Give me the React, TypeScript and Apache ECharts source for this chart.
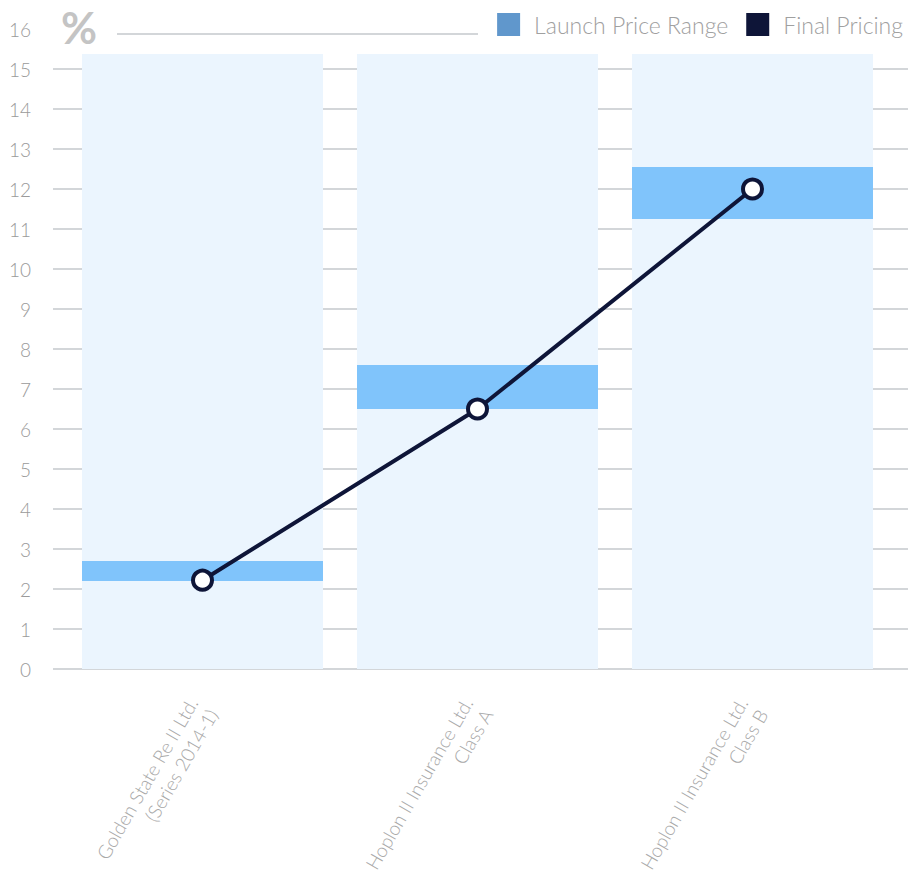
import React, { useEffect, useRef } from "react";
import * as echarts from "echarts";

const categories = [
  "Golden State Re II Ltd.\n(Series 2014-1)",
  "Hoplon II Insurance Ltd.\nClass A",
  "Hoplon II Insurance Ltd.\nClass B",
];
const rangeLow = [2.2, 6.5, 11.25];
const rangeHigh = [2.7, 7.6, 12.55];
const finalPricing = [2.22, 6.5, 12.0];
const yTicks = [0, 16];

const FONT = "Lato, 'Open Sans', sans-serif";

export default function App() {
  const ref = useRef<HTMLDivElement>(null);
  useEffect(() => {
    if (!ref.current) return;
    const chart = echarts.init(ref.current, null, { renderer: "svg" });
    const axisTop = 29;
    const axisBottom = 669;
    const H = 878;
    const pxPerUnit = (axisBottom - axisTop) / (yTicks[1] - yTicks[0]);
    const bandTop = 54;
    const bandMax = (axisBottom - bandTop) / pxPerUnit;
    const splitColors: string[] = [];
    for (let i = yTicks[0]; i < yTicks[1]; i++) splitColors.push("#c4c8cc");
    splitColors.push("rgba(0,0,0,0)");

    chart.setOption({
      animation: false,
      textStyle: { fontFamily: FONT },
      legend: {
        right: 10,
        top: 8,
        icon: "rect",
        itemWidth: 23,
        itemHeight: 23,
        itemGap: 18,
        textStyle: {
          color: "#a0a0a0",
          fontSize: 23,
          fontWeight: 300,
          fontFamily: FONT,
          padding: [0, 0, 0, 9],
        },
        data: [
          { name: "Launch Price Range", itemStyle: { color: "#6097cc" } },
          { name: "Final Pricing", itemStyle: { color: "#0e1538", borderWidth: 0 } },
        ],
      },
      graphic: [
        {
          type: "text",
          left: 61,
          top: 5,
          style: { text: "%", fontSize: 44, fontWeight: "bold", fill: "#c4c4c4", fontFamily: FONT },
        },
        {
          type: "line",
          shape: { x1: 117, y1: 34, x2: 478, y2: 34 },
          style: { stroke: "#c4c8cc", lineWidth: 1.5 },
        },
      ],
      grid: [
        { left: 53, right: 10, top: axisTop, bottom: H - axisBottom, outerBoundsMode: "none", containLabel: false },
        { left: 65, right: 28, top: bandTop, bottom: H - axisBottom, outerBoundsMode: "none", containLabel: false },
      ],
      xAxis: [
        { gridIndex: 0, type: "value", show: false, min: 0, max: 1 },
        {
          gridIndex: 1,
          type: "category",
          data: categories,
          axisLine: { show: false },
          axisTick: { show: false },
          axisLabel: {
            rotate: 60,
            margin: 36,
            color: "#a8a8a8",
            fontSize: 19,
            fontWeight: 300,
            lineHeight: 23,
            fontFamily: FONT,
          },
        },
      ],
      yAxis: [
        {
          gridIndex: 0,
          type: "value",
          min: yTicks[0],
          max: yTicks[1],
          interval: 1,
          axisLine: { show: false },
          axisTick: { show: false },
          axisLabel: { color: "#9a9a9a", fontSize: 19, fontWeight: 300, margin: 22, fontFamily: FONT },
          splitLine: { show: true, lineStyle: { color: splitColors, width: 1.5 } },
        },
        {
          gridIndex: 1,
          type: "value",
          min: 0,
          max: bandMax,
          show: false,
          splitLine: { show: false },
        },
      ],
      series: [
        {
          type: "bar",
          xAxisIndex: 1,
          yAxisIndex: 1,
          stack: "range",
          barWidth: 241,
          silent: true,
          showBackground: true,
          backgroundStyle: { color: "#ebf5fe" },
          itemStyle: { color: "rgba(0,0,0,0)" },
          data: rangeLow,
        },
        {
          name: "Launch Price Range",
          type: "bar",
          xAxisIndex: 1,
          yAxisIndex: 1,
          stack: "range",
          barWidth: 241,
          itemStyle: { color: "#80c4fb" },
          data: rangeHigh.map((h, i) => +(h - rangeLow[i]).toFixed(3)),
        },
        {
          name: "Final Pricing",
          type: "line",
          xAxisIndex: 1,
          yAxisIndex: 1,
          data: finalPricing,
          symbol: "circle",
          symbolSize: 19,
          lineStyle: { color: "#0e1538", width: 4 },
          itemStyle: { color: "#ffffff", borderColor: "#0e1538", borderWidth: 4 },
          z: 5,
        },
      ],
    });
    return () => chart.dispose();
  }, []);
  return <div ref={ref} style={{ width: 918, height: 878, position: "absolute", left: 0, top: 0 }} />;
}
